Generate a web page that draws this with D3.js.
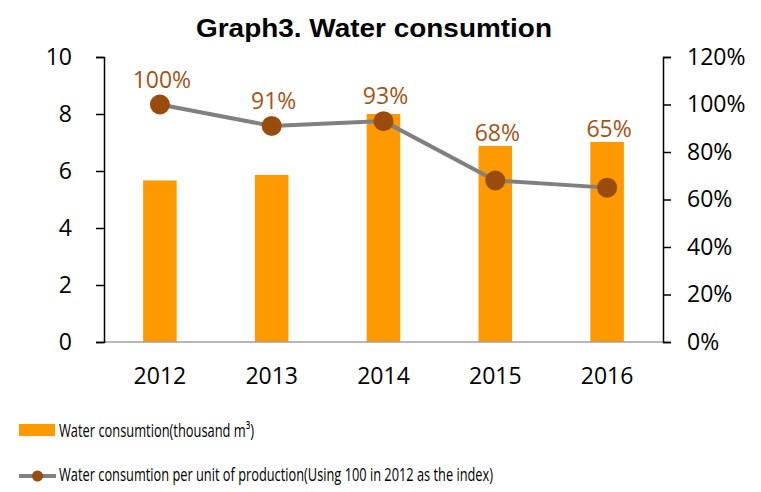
<html>
<head>
<script src="https://d3js.org/d3.v7.min.js"></script>
<style>
  body { margin: 0; background: #fff; }
  text { font-family: "Open Sans", "Noto Sans", sans-serif; }
</style>
</head>
<body>
<script>
var years = ["2012", "2013", "2014", "2015", "2016"];
var consumption = [5.67, 5.86, 8.0, 6.88, 7.02];
var perUnit = [100, 91, 93, 68, 65];
var leftTicks = [0, 2, 4, 6, 8, 10];
var rightTicks = [0, 20, 40, 60, 80, 100, 120];

var width = 761, height = 492;
var margin = {top: 57, bottom: 150, left: 104, right: 98};

var svg = d3.select("body").append("svg")
    .attr("width", width)
    .attr("height", height);

var xScale = d3.scaleBand()
    .domain(years)
    .range([margin.left, width - margin.right])
    .paddingInner(0.7)
    .paddingOuter(0.35);

var yLeft = d3.scaleLinear()
    .domain([0, 10])
    .range([height - margin.bottom, margin.top]);

var yRight = d3.scaleLinear()
    .domain([0, 120])
    .range([height - margin.bottom, margin.top]);

var cx = function(d, i) { return xScale(years[i]) + xScale.bandwidth() / 2; };

// title
svg.append("text")
    .text("Graph3. Water consumtion")
    .attr("x", 374)
    .attr("y", 37)
    .attr("text-anchor", "middle")
    .attr("textLength", 356)
    .attr("lengthAdjust", "spacingAndGlyphs")
    .style("font-family", "'Liberation Sans', Arial, sans-serif")
    .style("font-weight", "bold")
    .style("font-size", "26px");

// bars
svg.append("g")
    .selectAll("rect")
    .data(consumption)
    .enter()
    .append("rect")
    .attr("x", function(d, i) { return xScale(years[i]); })
    .attr("width", xScale.bandwidth())
    .attr("y", function(d) { return yLeft(d); })
    .attr("height", function(d) { return yLeft(0) - yLeft(d); })
    .attr("fill", "#ff9900");

// x baseline
svg.append("line")
    .attr("x1", margin.left)
    .attr("x2", width - margin.right)
    .attr("y1", yLeft(0))
    .attr("y2", yLeft(0))
    .attr("stroke", "#a0a0a0")
    .attr("stroke-width", 1.5);

// left axis
var leftAxis = d3.axisLeft(yLeft).tickValues(leftTicks).tickSize(8).tickPadding(24);
var gl = svg.append("g")
    .attr("transform", "translate(" + margin.left + ",0)")
    .call(leftAxis);

// right axis
var rightAxis = d3.axisRight(yRight).tickValues(rightTicks).tickSize(8).tickPadding(16)
    .tickFormat(function(d) { return d + "%"; });
var gr = svg.append("g")
    .attr("transform", "translate(" + (width - margin.right) + ",0)")
    .call(rightAxis);

[gl, gr].forEach(function(g) {
    g.select(".domain").attr("stroke", "#000").attr("stroke-width", 1.5);
    g.selectAll(".tick line").attr("stroke", "#000").attr("stroke-width", 1.5);
    g.selectAll(".tick text")
        .style("font-size", "23px")
        .attr("fill", "#000");
});

// x labels
svg.append("g")
    .selectAll("text")
    .data(years)
    .enter()
    .append("text")
    .text(function(d) { return d; })
    .attr("x", function(d) { return xScale(d) + xScale.bandwidth() / 2; })
    .attr("y", 384)
    .attr("text-anchor", "middle")
    .style("font-size", "23px");

// line
var lineGen = d3.line()
    .x(function(d, i) { return cx(d, i); })
    .y(function(d) { return yRight(d); });

svg.append("path")
    .datum(perUnit)
    .attr("d", lineGen)
    .attr("fill", "none")
    .attr("stroke", "#808080")
    .attr("stroke-width", 4);

svg.append("g")
    .selectAll("circle")
    .data(perUnit)
    .enter()
    .append("circle")
    .attr("cx", cx)
    .attr("cy", function(d) { return yRight(d); })
    .attr("r", 10)
    .attr("fill", "#994c0c");

// data labels sit above the dot, or above the bar if that is higher
svg.append("g")
    .selectAll("text")
    .data(perUnit)
    .enter()
    .append("text")
    .text(function(d) { return d + "%"; })
    .attr("x", function(d, i) { return cx(d, i) + 2; })
    .attr("y", function(d, i) {
        return Math.min(yRight(d) - 17, yLeft(consumption[i]) - 5);
    })
    .attr("text-anchor", "middle")
    .attr("fill", "#a35416")
    .style("font-size", "23px");

// legend
var legend = svg.append("g");
legend.append("rect")
    .attr("x", 19).attr("y", 424)
    .attr("width", 36).attr("height", 12)
    .attr("fill", "#ff9900");
legend.append("text")
    .text("Water consumtion(thousand m³)")
    .attr("x", 59).attr("y", 437)
    .attr("textLength", 195)
    .attr("lengthAdjust", "spacingAndGlyphs")
    .style("font-size", "19px");

legend.append("line")
    .attr("x1", 19).attr("x2", 56)
    .attr("y1", 476).attr("y2", 476)
    .attr("stroke", "#808080")
    .attr("stroke-width", 4);
legend.append("circle")
    .attr("cx", 37.5).attr("cy", 476)
    .attr("r", 5.5)
    .attr("fill", "#994c0c");
legend.append("text")
    .text("Water consumtion per unit of production(Using 100 in 2012 as the index)")
    .attr("x", 59).attr("y", 481)
    .attr("textLength", 434)
    .attr("lengthAdjust", "spacingAndGlyphs")
    .style("font-size", "19px");
</script>
</body>
</html>
